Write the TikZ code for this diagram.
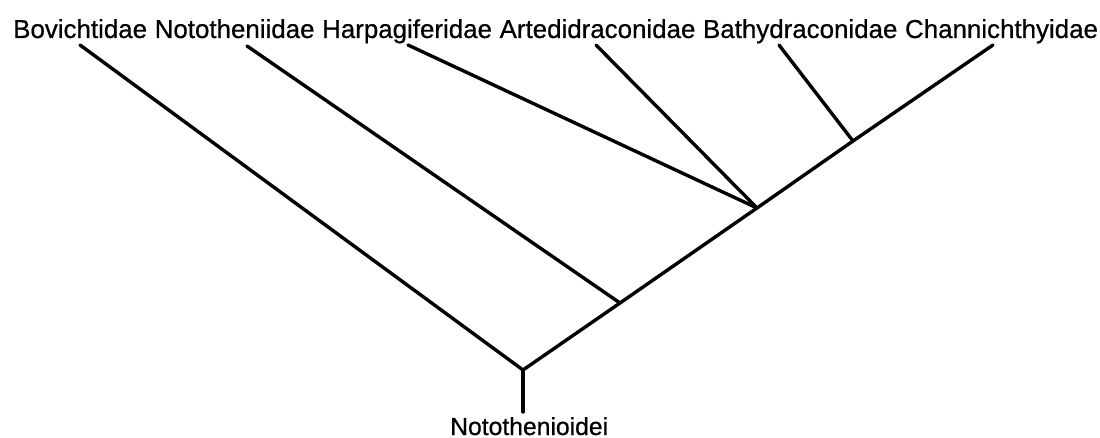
\documentclass[tikz,border=0pt]{standalone}
\usepackage{fontspec}
\setmainfont{Liberation Sans}
\newfontfamily\lblfont{Liberation Sans}[FakeBold=0.6]
\begin{document}
\begin{tikzpicture}[x=1pt,y=-1pt,
  lbl/.style={inner sep=0pt, anchor=base west, font=\lblfont\fontsize{25.9}{30}\selectfont},
  branch/.style={line width=3.4pt, line cap=round, line join=round}]
\useasboundingbox (0,0) rectangle (1100,438);
% labels
\node[lbl] (bov) at (13,38) {Bovichtidae};
\node[lbl] (not) at ([xshift=7.2pt]bov.base east) {Nototheniidae};
\node[lbl] (har) at ([xshift=7.2pt]not.base east) {Harpagiferidae};
\node[lbl] (art) at ([xshift=7.2pt]har.base east) {Artedidraconidae};
\node[lbl] (bat) at ([xshift=7.2pt]art.base east) {Bathydraconidae};
\node[lbl] (cha) at ([xshift=7.2pt]bat.base east) {Channichthyidae};
\node[lbl, font=\lblfont\fontsize{24.7}{29}\selectfont] (root) at (450,435) {Notothenioidei};
% leaf tips
\coordinate (tbov) at (80,45);
\coordinate (tnot) at (247,46);
\coordinate (thar) at (408,45);
\coordinate (tart) at (596,45);
\coordinate (tbat) at (779,45);
\coordinate (tcha) at (993,45);
% internal nodes
\coordinate (r) at (523,370);
\coordinate (n1) at (620,303);
\coordinate (n2) at (757,208);
\coordinate (n3) at (853,141);
\coordinate (stem) at (523,412);
\draw[branch] (stem) -- (r);
\draw[branch] (tbov) -- (r) -- (n1) -- (n2) -- (n3) -- (tcha);
\draw[branch] (tnot) -- (n1);
\draw[branch] (thar) -- (n2);
\draw[branch] (tart) -- (n2);
\draw[branch] (tbat) -- (n3);
\end{tikzpicture}
\end{document}
